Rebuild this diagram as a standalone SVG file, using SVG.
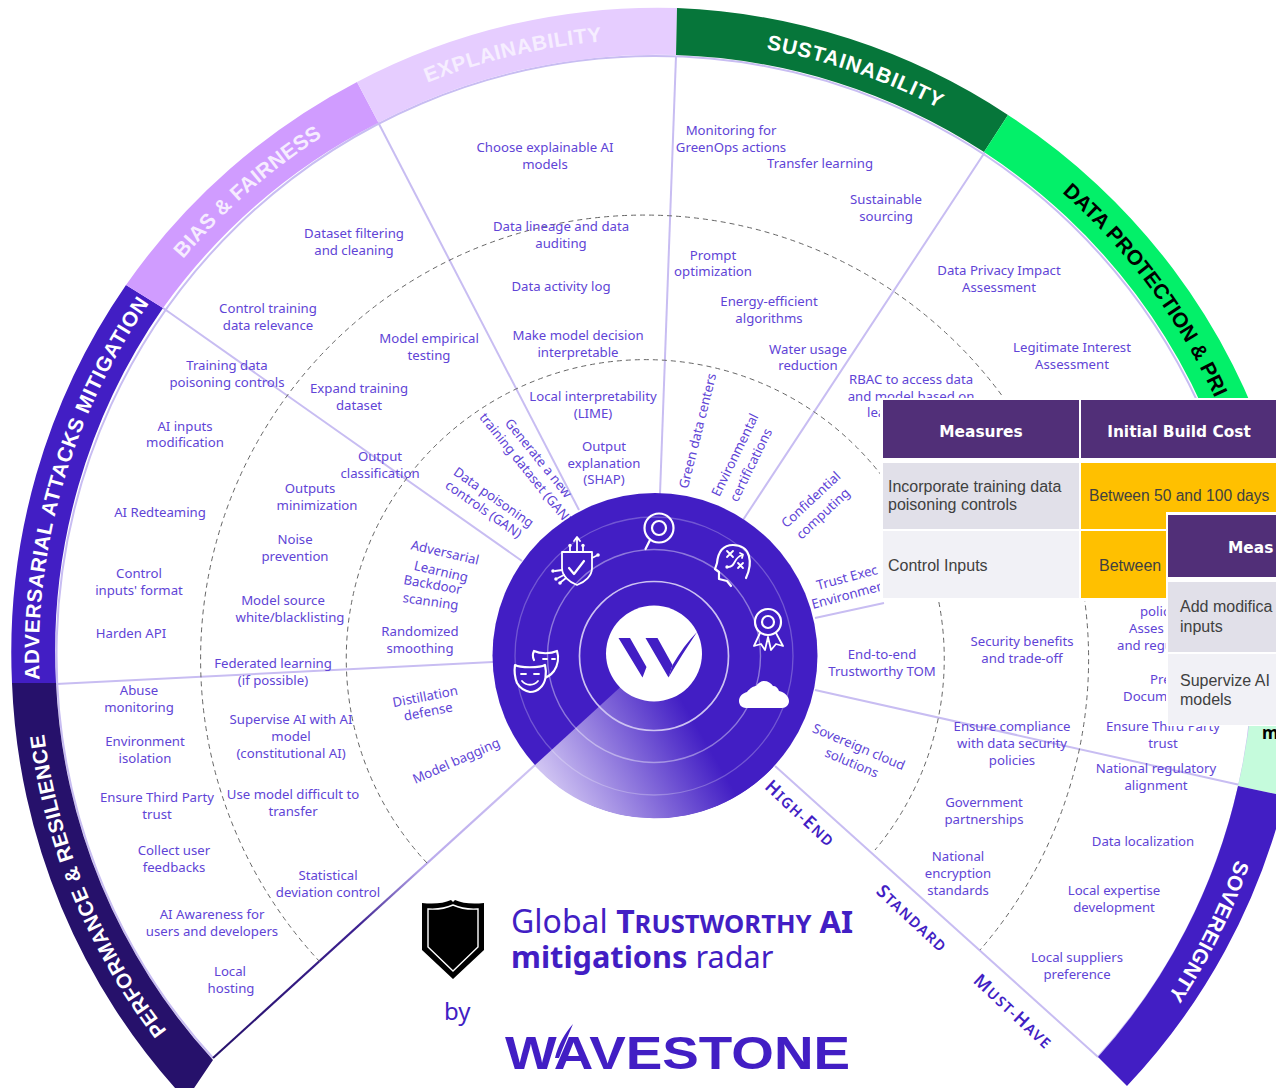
<svg xmlns="http://www.w3.org/2000/svg" width="1276" height="1088" viewBox="0 0 1276 1088">
<style>
text{font-family:"Noto Sans","Liberation Sans",sans-serif}
.t{font-size:13.2px;fill:#6044D6;text-anchor:middle}
.ts{font-size:13.2px;fill:#6044D6}
.r{font-size:20.8px;font-family:"Liberation Sans",Arial,sans-serif;font-weight:700;fill:#fff}
.sp{fill:none;stroke:#C8BDF2;stroke-width:2}
.d{fill:none;stroke:#666;stroke-width:1;stroke-dasharray:5 4}
.lv{font-weight:600;fill:#421EC4;text-anchor:middle;font-size:14.5px;letter-spacing:1.4px}
.lv .c{font-size:18px}
.th{font-family:"DejaVu Sans",sans-serif;font-weight:700;font-size:15.4px;fill:#fff;text-anchor:middle}
.tb{font-family:"Liberation Sans",sans-serif;font-size:16px;fill:#404040}
.i{fill:none;stroke:#fff;stroke-width:2.2;stroke-linecap:round;stroke-linejoin:round}
.i2{fill:none;stroke:#fff;stroke-width:1.8;stroke-linecap:round;stroke-linejoin:round}
</style>
<defs>
<linearGradient id="wedge" gradientUnits="userSpaceOnUse" x1="545" y1="775" x2="680" y2="697"><stop offset="0" stop-color="#CFC3F2"/><stop offset="1" stop-color="#421EC4"/></linearGradient>
<linearGradient id="sg" gradientUnits="userSpaceOnUse" x1="535" y1="765" x2="213" y2="1058"><stop offset="0" stop-color="#CFC4F3"/><stop offset="0.35" stop-color="#B9A9EC"/><stop offset="0.55" stop-color="#3C2090"/><stop offset="1" stop-color="#26116B"/></linearGradient>
<path id="a-adv" d="M39.5 679.7A616 616 0 0 1 156.6 292.9"/>
<path id="a-perf" d="M167 1030.8A616 616 0 0 1 42.4 719.4"/>
<path id="a-bias" d="M183.1 259A616 616 0 0 1 337.7 127"/>
<path id="a-expl" d="M427.3 82.7A616 616 0 0 1 617.4 40.2"/>
<path id="a-sust" d="M766.2 49.1A616 616 0 0 1 953.6 116.2"/>
<path id="a-data" d="M1062 192.5A616 616 0 0 1 1226.2 424.2"/>
<path id="a-sov" d="M1236 859.6A616 616 0 0 1 1159.6 1008.3"/>
</defs>
<rect width="1276" height="1088" fill="#fff"/>

<g id="connectors">
<path class="sp" d="M213 1058A598.5 598.5 0 1 1 1098 1057"/>
<path class="sp" d="M676 56L660 494"/>
<path class="sp" d="M985 152L743 520"/>
<path class="sp" d="M378 122L579 510"/>
<path class="sp" d="M163 308L522 561"/>
<path class="sp" d="M56 684L493 662"/>
<path class="sp" d="M815 618L884 603"/>
<path class="sp" d="M815 690L1240 785"/>
<path class="sp" d="M775 766L1098 1057"/>
<path fill="none" stroke="url(#sg)" stroke-width="2.2" d="M535 765L213 1058"/>
<path class="d" d="M320 962A444 444 0 1 1 980 950"/>
<path class="d" d="M427 863A299 299 0 1 1 875 850"/>
</g>

<g id="ring">
<g id="seg-adv"><path d="M12 683A646 646 0 0 1 126 285L163 308A600 600 0 0 0 56 683Z" fill="#421EC4"/><text class="r"><textPath href="#a-adv" textLength="399">ADVERSARIAL ATTACKS MITIGATION</textPath></text></g>
<g id="seg-perf"><path d="M186 1100A646 646 0 0 1 12 683L56 683A600 600 0 0 0 213 1060Z" fill="#26116B"/><text class="r"><textPath href="#a-perf" textLength="325">PERFORMANCE &amp; RESILIENCE</textPath></text></g>
<g id="seg-bias"><path d="M126 285A646 646 0 0 1 357 82L378.5 122.7A600 600 0 0 0 163 308Z" fill="#D09CFF"/><text class="r" style="fill:#F6ECFF"><textPath href="#a-bias" textLength="186">BIAS &amp; FAIRNESS</textPath></text></g>
<g id="seg-expl"><path d="M357 82A646 646 0 0 1 677 8L676 55A600 600 0 0 0 378.5 122.7Z" fill="#E6CDFF"/><text class="r" style="fill:#F6EEFF"><textPath href="#a-expl" textLength="180">EXPLAINABILITY</textPath></text></g>
<g id="seg-sust"><path d="M677 8A646 646 0 0 1 1008 115L984 152A600 600 0 0 0 676 55Z" fill="#06763A"/><text class="r"><textPath href="#a-sust" textLength="183">SUSTAINABILITY</textPath></text></g>
<g id="seg-data"><path d="M1008 115A646 646 0 0 1 1275 470L1230 480A600 600 0 0 0 984 152Z" fill="#03F069"/><text class="r" style="fill:#000"><textPath href="#a-data" textLength="258">DATA PROTECTION &amp; PRI</textPath></text></g>
<g id="seg-mint"><path d="M1275 470A646 646 0 0 1 1285 796L1238 786A600 600 0 0 0 1230 480Z" fill="#C5FBDC"/><text x="1262" y="739" style="font-size:17px;font-weight:700;fill:#000">m</text></g>
<g id="seg-sov"><path d="M1285 796A646 646 0 0 1 1127 1086L1098 1057A600 600 0 0 0 1238 786Z" fill="#421EC4"/><text class="r"><textPath href="#a-sov" textLength="153">SOVEREIGNTY</textPath></text></g>
</g>

<g id="n-expl">
<g id="n1"><text class="t" x="545" y="152">Choose explainable AI<tspan x="545" dy="17">models</tspan></text></g>
<g id="n2"><text class="t" x="561" y="231">Data lineage and data<tspan x="561" dy="17">auditing</tspan></text></g>
<g id="n3"><text class="t" x="561" y="291">Data activity log</text></g>
<g id="n4"><text class="t" x="578" y="340">Make model decision<tspan x="578" dy="17">interpretable</tspan></text></g>
<g id="n5"><text class="t" x="593" y="401">Local interpretability<tspan x="593" dy="17">(LIME)</tspan></text></g>
<g id="n6"><text class="t" x="604" y="451">Output<tspan x="604" dy="17">explanation</tspan><tspan x="604" dy="16">(SHAP)</tspan></text></g>
</g>
<g id="n-bias">
<g id="n7"><text class="t" x="354" y="238">Dataset filtering<tspan x="354" dy="17">and cleaning</tspan></text></g>
<g id="n8"><text class="t" x="268" y="313">Control training<tspan x="268" dy="17">data relevance</tspan></text></g>
<g id="n9"><text class="t" x="429" y="343">Model empirical<tspan x="429" dy="17">testing</tspan></text></g>
<g id="n10"><text class="t" x="359" y="393">Expand training<tspan x="359" dy="17">dataset</tspan></text></g>
<g id="n11"><text class="t" transform="translate(535 461) rotate(51)">Generate a new</text><text class="t" transform="translate(522 471) rotate(51)">training dataset (GAN)</text></g>
<g id="n12"><text class="t" transform="translate(491 501) rotate(35)">Data poisoning</text><text class="t" transform="translate(481 513) rotate(35)">controls (GAN)</text></g>
</g>
<g id="n-adv">
<g id="n13"><text class="t" x="227" y="370">Training data<tspan x="227" dy="17">poisoning controls</tspan></text></g>
<g id="n14"><text class="t" x="185" y="431">AI inputs<tspan x="185" dy="16">modification</tspan></text></g>
<g id="n15"><text class="t" x="160" y="517">AI Redteaming</text></g>
<g id="n16"><text class="t" x="139" y="578">Control<tspan x="139" dy="17">inputs' format</tspan></text></g>
<g id="n17"><text class="t" x="131" y="638">Harden API</text></g>
<g id="n18"><text class="t" x="380" y="461">Output<tspan x="380" dy="17">classification</tspan></text></g>
<g id="n19"><text class="t" x="310" y="493">Outputs<tspan x="317" dy="17">minimization</tspan></text></g>
<g id="n20"><text class="t" x="295" y="544">Noise<tspan x="295" dy="17">prevention</tspan></text></g>
<g id="n21"><text class="t" x="283" y="605">Model source<tspan x="290" dy="17">white/blacklisting</tspan></text></g>
<g id="n22"><text class="t" x="273" y="668">Federated learning<tspan x="273" dy="17">(if possible)</tspan></text></g>
<g id="n23"><text class="t" transform="translate(444 557) rotate(13)">Adversarial</text><text class="t" transform="translate(440 576) rotate(13)">Learning</text><text class="t" transform="translate(432 589) rotate(10)">Backdoor</text><text class="t" transform="translate(430 606) rotate(8)">scanning</text></g>
<g id="n24"><text class="t" x="420" y="636">Randomized<tspan x="420" dy="17">smoothing</tspan></text></g>
</g>
<g id="n-perf">
<g id="n25"><text class="t" x="139" y="695">Abuse<tspan x="139" dy="17">monitoring</tspan></text></g>
<g id="n26"><text class="t" x="145" y="746">Environment<tspan x="145" dy="17">isolation</tspan></text></g>
<g id="n27"><text class="t" x="157" y="802">Ensure Third Party<tspan x="157" dy="17">trust</tspan></text></g>
<g id="n28"><text class="t" x="174" y="855">Collect user<tspan x="174" dy="17">feedbacks</tspan></text></g>
<g id="n29"><text class="t" x="212" y="919">AI Awareness for<tspan x="212" dy="17">users and developers</tspan></text></g>
<g id="n30"><text class="t" x="230" y="976">Local<tspan x="231" dy="17">hosting</tspan></text></g>
<g id="n31"><text class="t" x="291" y="724">Supervise AI with AI<tspan x="291" dy="17">model</tspan><tspan x="291" dy="17">(constitutional AI)</tspan></text></g>
<g id="n32"><text class="t" x="293" y="799">Use model difficult to<tspan x="293" dy="17">transfer</tspan></text></g>
<g id="n33"><text class="t" x="328" y="880">Statistical<tspan x="328" dy="17">deviation control</tspan></text></g>
<g id="n34"><text class="t" transform="translate(426 701) rotate(-11)">Distillation</text><text class="t" transform="translate(429 716) rotate(-11)">defense</text></g>
<g id="n35"><text class="t" transform="translate(458 765) rotate(-24)">Model bagging</text></g>
</g>
<g id="n-sust">
<g id="n36"><text class="t" x="731" y="135">Monitoring for<tspan x="731" dy="17">GreenOps actions</tspan></text></g>
<g id="n37"><text class="t" x="820" y="168">Transfer learning</text></g>
<g id="n38"><text class="t" x="886" y="204">Sustainable<tspan x="886" dy="17">sourcing</tspan></text></g>
<g id="n39"><text class="t" x="713" y="260">Prompt<tspan x="713" dy="16">optimization</tspan></text></g>
<g id="n40"><text class="t" x="769" y="306">Energy-efficient<tspan x="769" dy="17">algorithms</tspan></text></g>
<g id="n41"><text class="t" x="808" y="354">Water usage<tspan x="808" dy="16">reduction</tspan></text></g>
<g id="n42"><text class="t" transform="translate(702 432) rotate(-76)">Green data centers</text></g>
<g id="n43"><text class="t" transform="translate(739 457) rotate(-64)">Environmental</text><text class="t" transform="translate(755 467) rotate(-64)">certifications</text></g>
<g id="n44"><text class="t" transform="translate(814 503) rotate(-43)">Confidential</text><text class="t" transform="translate(826 517) rotate(-43)">computing</text></g>
</g>
<g id="n-data">
<g id="n45"><text class="t" x="999" y="275">Data Privacy Impact<tspan x="999" dy="17">Assessment</tspan></text></g>
<g id="n46"><text class="t" x="1072" y="352">Legitimate Interest<tspan x="1072" dy="17">Assessment</tspan></text></g>
<g id="n47"><text class="t" x="911" y="384">RBAC to access data<tspan x="911" dy="17">and model based on</tspan></text><text class="ts" x="867" y="417">lea</text></g>
<g id="n48"><text class="ts" transform="translate(818 590) rotate(-15)">Trust Exec</text><text class="ts" transform="translate(813 609) rotate(-15)">Environmen</text></g>
<g id="n49"><text class="t" x="882" y="659">End-to-end<tspan x="882" dy="17">Trustworthy TOM</tspan></text></g>
<g id="n50"><text class="t" x="1022" y="646">Security benefits<tspan x="1022" dy="17">and trade-off</tspan></text></g>
<g id="n51"><text class="ts" x="1140" y="616">polic</text><text class="ts" x="1129" y="633">Asses</text><text class="ts" x="1117" y="650">and regu</text></g>
<g id="n52"><text class="ts" x="1150" y="684">Pre</text><text class="ts" x="1123" y="701">Docum</text></g>
<g id="n53"><text class="t" x="1163" y="731">Ensure Third Party<tspan x="1163" dy="17">trust</tspan></text></g>
</g>
<g id="n-sov">
<g id="n54"><text class="t" x="1156" y="773">National regulatory<tspan x="1156" dy="17">alignment</tspan></text></g>
<g id="n55"><text class="t" x="1012" y="731">Ensure compliance<tspan x="1012" dy="17">with data security</tspan><tspan x="1012" dy="17">policies</tspan></text></g>
<g id="n56"><text class="t" x="984" y="807">Government<tspan x="984" dy="17">partnerships</tspan></text></g>
<g id="n57"><text class="t" x="958" y="861">National<tspan x="958" dy="17">encryption</tspan><tspan x="958" dy="17">standards</tspan></text></g>
<g id="n58"><text class="t" x="1143" y="846">Data localization</text></g>
<g id="n59"><text class="t" x="1114" y="895">Local expertise<tspan x="1114" dy="17">development</tspan></text></g>
<g id="n60"><text class="t" x="1077" y="962">Local suppliers<tspan x="1077" dy="17">preference</tspan></text></g>
<g id="n61"><text class="t" transform="translate(857 751) rotate(23)">Sovereign cloud</text><text class="t" transform="translate(850 767) rotate(23)">solutions</text></g>
</g>

<g id="levels">
<text class="lv" transform="translate(796 818) rotate(43)"><tspan class="c">H</tspan>IGH-<tspan class="c">E</tspan>ND</text>
<text class="lv" transform="translate(908 923) rotate(43)"><tspan class="c">S</tspan>TANDARD</text>
<text class="lv" transform="translate(1009 1016) rotate(43)"><tspan class="c">M</tspan>UST-<tspan class="c">H</tspan>AVE</text>
</g>

<g id="hub">
<circle cx="655" cy="655.5" r="162.5" fill="#421EC4"/>
<path d="M655 655.5L534.5 765.5A162.5 162.5 0 0 0 773 767Z" fill="url(#wedge)"/>
<circle cx="654" cy="656" r="139" fill="none" stroke="#fff" stroke-opacity=".25" stroke-width="1.3"/>
<circle cx="654" cy="656" r="106.5" fill="none" stroke="#fff" stroke-opacity=".4" stroke-width="1.4"/>
<circle cx="654" cy="656" r="74.5" fill="none" stroke="#CDC2F2" stroke-width="1.7"/>
<circle cx="654" cy="653.5" r="48" fill="#fff"/>
<path d="M618.5 638H630L646.5 667L642.5 677.5ZM645.5 638H657.5L672.5 665L668.5 677.5Z" fill="#421EC4"/>
<path d="M668.5 677.5L672.5 665C680 652 688 641 697 632C688 646 678 661 668.5 677.5Z" fill="#421EC4"/>
<g id="icon-shield">
<path class="i2" d="M562 552H592V568C592 576 585 582 577 585C569 582 562 576 562 568Z"/>
<path class="i" d="M569 568L574 574L584 561"/>
<path class="i2" d="M577 552V538M574 541L577 537L580 541M570 552V546M583 552V546M592 558L598 555M562 570L555 571M564 575L558 578M566 578L561 582"/>
<circle cx="570" cy="545.5" r="1.7" fill="#fff"/><circle cx="583" cy="545.5" r="1.7" fill="#fff"/><circle cx="598" cy="555" r="1.8" fill="#fff"/><circle cx="553" cy="571" r="1.8" fill="#fff"/><circle cx="556" cy="579" r="1.8" fill="#fff"/><circle cx="560" cy="583" r="1.8" fill="#fff"/>
</g>
<g id="icon-target" class="i"><circle cx="659" cy="528" r="14.5"/><circle cx="659" cy="528" r="7"/><path d="M650 540L645.5 549"/></g>
<g id="icon-head">
<path class="i" d="M746 578C753 563 751 545 733 545C722 545 718 553 717 563L715 569L719 572V579L727 581L731 586"/>
<path class="i2" d="M728 567C736 567 733 558 742 555M740 553L743 554.5L742 558M727 551L733 557M733 551L727 557M738 563L743 568M743 563L738 568"/>
<circle cx="727" cy="567" r="1.7" fill="#fff"/>
</g>
<g id="icon-medal">
<g class="i"><circle cx="768" cy="622" r="13"/><circle cx="768" cy="622" r="6"/></g>
<path class="i2" d="M760 633L754 646L761 644L765 650L768 637L771 650L776 644L783 646L776 633"/>
</g>
<path id="icon-cloud" d="M746 708C741 708 739 704 739 701C739 696 743 693 747 692C750 688 754 686 756 686C758 683 761 681 764 681C768 681 771 683 773 686C776 686 778 688 779 691C784 692 789 696 789 701C789 705 786 708 782 708Z" fill="#fff"/>
<g id="icon-masks">
<path class="i" d="M534 660C532 656 533 653 534 651C540 654 551 654 557 651C559 657 558 665 554 671C551 675 546 678 541 679"/>
<path d="M515 665C520 668 540 668 545 665C547 673 546 683 540 688C536 692 533 692 530 692C525 691 520 688 517 683C515 678 514 672 515 665Z" fill="#421EC4" stroke="#fff" stroke-width="2.2" stroke-linejoin="round"/>
<path class="i2" d="M521 674H526M534 674H539M522 681C526 686 534 686 538 681"/>
<path class="i2" d="M543 659H547M552 659H555"/>
</g>
</g>

<g id="table1">
<rect x="880" y="398" width="396" height="203" fill="#fff"/>
<rect x="883" y="400" width="196" height="58" fill="#512F78"/>
<rect x="1081" y="400" width="195" height="58" fill="#512F78"/>
<rect x="883" y="463" width="196" height="66" fill="#E1E0E9"/>
<rect x="883" y="531" width="196" height="67" fill="#F1F1F6"/>
<rect x="1081" y="463" width="195" height="66" fill="#FFC000"/>
<rect x="1081" y="531" width="195" height="67" fill="#FFC000"/>
<text class="th" x="981" y="437">Measures</text>
<text class="th" x="1179" y="437">Initial Build Cost</text>
<text class="tb" x="888" y="492">Incorporate training data<tspan x="888" dy="18">poisoning controls</tspan></text>
<text class="tb" x="888" y="571">Control Inputs</text>
<text class="tb" x="1089" y="501" style="font-size:15.6px">Between 50 and 100 days</text>
<text class="tb" x="1099" y="571">Between</text>
</g>
<g id="table2">
<rect x="1166" y="512" width="110" height="214" fill="#fff"/>
<rect x="1168" y="515" width="108" height="62" fill="#512F78"/>
<rect x="1168" y="582" width="108" height="70" fill="#E1E0E9"/>
<rect x="1168" y="654" width="108" height="71" fill="#F1F1F6"/>
<text class="th" x="1228" y="553" style="text-anchor:start">Meas</text>
<text class="tb" x="1180" y="612">Add modifica<tspan x="1180" dy="20">inputs</tspan></text>
<text class="tb" x="1180" y="686">Supervize AI<tspan x="1180" dy="19">models</tspan></text>
</g>

<g id="title">
<path d="M422 903Q440 905 451 900L453 902L455 900Q466 905 484 903V950L453 979L422 950Z" fill="#000"/>
<path d="M428 909Q442 910 453 905Q464 910 478 909V947L453 971L428 947Z" fill="#000" stroke="#fff" stroke-width="1.4"/>
<text x="511" y="933" style="font-size:32px;fill:#421EC4">Global <tspan style="font-weight:700;font-size:32px">T</tspan><tspan style="font-weight:700;font-size:25.6px">RUSTWORTHY</tspan><tspan style="font-weight:700;font-size:31px"> AI</tspan></text>
<text x="511" y="968" style="font-size:30.7px;fill:#421EC4"><tspan style="font-weight:700">mitigations</tspan> radar</text>
<text x="444" y="1020" style="font-size:24px;fill:#421EC4">by</text>
<text x="505" y="1069" textLength="345" lengthAdjust="spacingAndGlyphs" style="font-family:'Liberation Sans',sans-serif;font-weight:700;font-size:46px;fill:#421EC4">WAVESTONE</text>
<path d="M555 1058C558 1045 565 1033 573 1024C568 1036 563 1047 559 1058Z" fill="#421EC4"/>
</g>
</svg>
